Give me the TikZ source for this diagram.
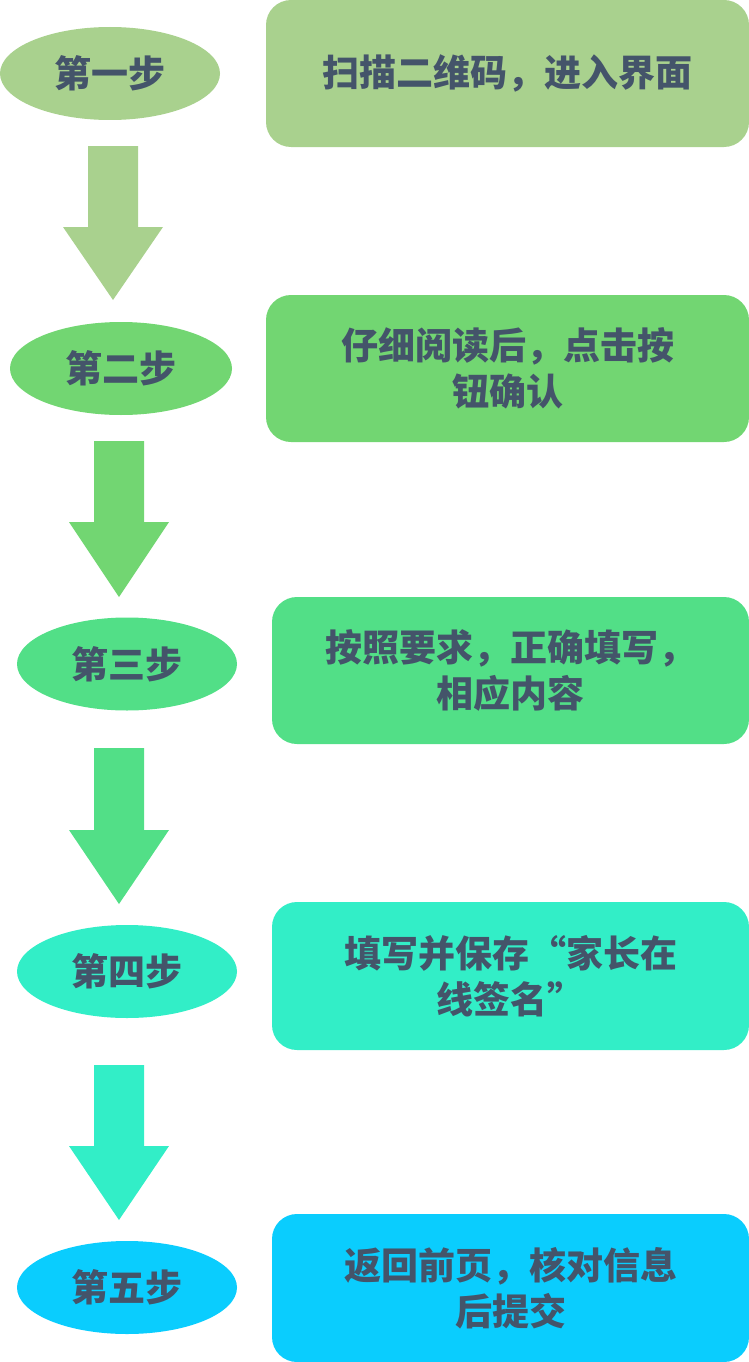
\documentclass[tikz,border=0pt]{standalone}
\usepackage{fontspec}
\newfontfamily\cjk{Noto Sans CJK SC Black}
\usetikzlibrary{shapes.geometric}
\definecolor{cone}{HTML}{A9D18E}
\definecolor{ctwo}{HTML}{72D672}
\definecolor{cthree}{HTML}{52DF87}
\definecolor{cfour}{HTML}{32EEC7}
\definecolor{cfive}{HTML}{0ACDFE}
\definecolor{txt}{HTML}{44546A}
\tikzset{
  steplabel/.style={ellipse, minimum width=220pt, minimum height=93pt, inner sep=0pt,
    text=txt, font=\cjk\fontsize{37}{44}\selectfont},
  infobox/.style={rounded corners=25pt, minimum height=147pt, inner sep=0pt, align=center,
    text=txt, font=\cjk\fontsize{37}{46}\selectfont},
}
\newcommand{\blockarrow}[5]{%
  \fill[#5] (#1-25,#2) -- (#1+25,#2) -- (#1+25,#3) -- (#1+50,#3) -- (#1,#4)
     -- (#1-50,#3) -- (#1-25,#3) -- cycle;}
\begin{document}
\begin{tikzpicture}[x=1pt,y=-1pt]
\useasboundingbox (0,0) rectangle (749,1362);
% step ellipses
\node[steplabel, fill=cone] (e1) at (110,73.5) {第一步};
\node[steplabel, fill=ctwo, minimum width=222pt] (e2) at (121,368.5) {第二步};
\node[steplabel, fill=cthree] (e3) at (127,664) {第三步};
\node[steplabel, fill=cfour] (e4) at (127,971.5) {第四步};
\node[steplabel, fill=cfive] (e5) at (127,1287.5) {第五步};
% boxes
\node[infobox, fill=cone, minimum width=483pt] (b1) at (507.5,73.5) {扫描二维码，进入界面};
\node[infobox, fill=ctwo, minimum width=483pt] (b2) at (507.5,368.5) {仔细阅读后，点击按\\钮确认};
\node[infobox, fill=cthree, minimum width=477pt] (b3) at (510.5,670.5) {按照要求，正确填写，\\相应内容};
\node[infobox, fill=cfour, minimum width=477pt, minimum height=148pt] (b4) at (510.5,976) {填写并保存“家长在\\线签名”};
\node[infobox, fill=cfive, minimum width=477pt, minimum height=148pt] (b5) at (510.5,1288) {返回前页，核对信息\\后提交};
% arrows
\blockarrow{113}{146}{227}{300}{cone}
\blockarrow{119}{441}{522}{597}{ctwo}
\blockarrow{119}{748}{830}{904}{cthree}
\blockarrow{119}{1065}{1146}{1220}{cfour}
\end{tikzpicture}
\end{document}
